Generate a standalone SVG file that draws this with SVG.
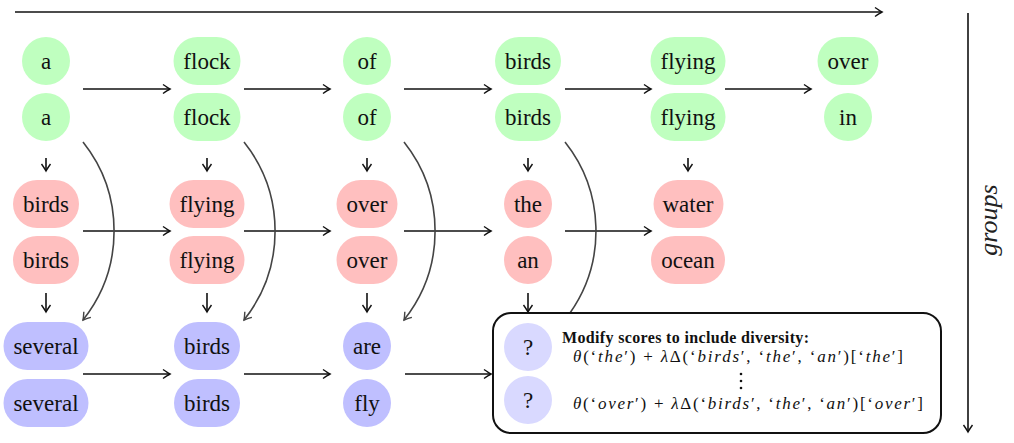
<svg xmlns="http://www.w3.org/2000/svg" width="1014" height="443" viewBox="0 0 1014 443">
<style>
.t{font-family:"Liberation Serif","Times New Roman",serif;font-size:23px;text-anchor:middle;fill:#111}
.g{fill:#bfffbf}.r{fill:#ffbfbf}.b{fill:#bfbfff}.q{fill:#d9d9ff}
.ar{stroke:#111;stroke-width:1.6;fill:none;marker-end:url(#ah)}
.cv{stroke:#444;stroke-width:1.6;fill:none}
.cva{marker-end:url(#ahg)}
.m{font-family:"Liberation Serif","Times New Roman",serif;font-size:17px;fill:#111}
.i{font-style:italic}
</style>
<defs>
<marker id="ah" viewBox="-10 -6 12 12" refX="0" refY="0" markerWidth="12" markerHeight="12" markerUnits="userSpaceOnUse" orient="auto"><path d="M-7,-4.5 Q-2,-1 0,0 Q-2,1 -7,4.5" fill="none" stroke="#111" stroke-width="1.4"/></marker>
<marker id="ahg" viewBox="-10 -6 12 12" refX="0" refY="0" markerWidth="12" markerHeight="12" markerUnits="userSpaceOnUse" orient="auto"><path d="M-7,-4.5 Q-2,-1 0,0 Q-2,1 -7,4.5" fill="none" stroke="#444" stroke-width="1.4"/></marker>
</defs>

<g id="axes">
<path class="ar" d="M15,12 L882,12"/>
<path class="ar" d="M968,13 L968,432"/>
<text class="i" font-family="Liberation Serif, serif" font-size="26" transform="translate(997,220) rotate(-90)" text-anchor="middle" fill="#222">groups</text>
</g>

<g id="connectors">
<path class="ar" d="M83,89 L170,89"/>
<path class="ar" d="M244,89 L330,89"/>
<path class="ar" d="M404,89 L491,89"/>
<path class="ar" d="M565,89 L651,89"/>
<path class="ar" d="M725,89 L811,89"/>
<path class="ar" d="M83,231 L170,231"/>
<path class="ar" d="M244,231 L330,231"/>
<path class="ar" d="M404,231 L491,231"/>
<path class="ar" d="M565,231 L651,231"/>
<path class="ar" d="M83,374 L170,374"/>
<path class="ar" d="M244,374 L330,374"/>
<path class="ar" d="M405,374 L491,374"/>
<path class="ar" d="M46,158 L46,171"/>
<path class="ar" d="M207,158 L207,171"/>
<path class="ar" d="M367,158 L367,171"/>
<path class="ar" d="M528,158 L528,171"/>
<path class="ar" d="M688,158 L688,171"/>
<path class="ar" d="M46,293 L46,312"/>
<path class="ar" d="M207,293 L207,312"/>
<path class="ar" d="M367,293 L367,312"/>
<path class="ar" d="M528,293 L528,312"/>
<path class="cv cva" d="M83,142 A143,143 0 0 1 83,320"/>
<path class="cv cva" d="M244,142 A143,143 0 0 1 244,320"/>
<path class="cv cva" d="M404,142 A143,143 0 0 1 404,320"/>
<path class="cv" d="M565,142 A143,143 0 0 1 570,313"/>
</g>

<g id="n-g1-a"><rect class="g" x="22" y="37" width="48" height="48" rx="24"/><text class="t" x="46" y="68.5">a</text></g>
<g id="n-g1-flock"><rect class="g" x="173.5" y="37" width="67" height="48" rx="24"/><text class="t" x="207" y="68.5">flock</text></g>
<g id="n-g1-of"><rect class="g" x="343" y="37" width="48" height="48" rx="24"/><text class="t" x="367" y="68.5">of</text></g>
<g id="n-g1-birds"><rect class="g" x="495" y="37" width="66" height="48" rx="24"/><text class="t" x="528" y="68.5">birds</text></g>
<g id="n-g1-flying"><rect class="g" x="650.5" y="37" width="75" height="48" rx="24"/><text class="t" x="688" y="68.5">flying</text></g>
<g id="n-g1-over"><rect class="g" x="817.5" y="37" width="61" height="48" rx="24"/><text class="t" x="848" y="68.5">over</text></g>

<g id="n-g2-a"><rect class="g" x="22" y="93" width="48" height="48" rx="24"/><text class="t" x="46" y="124.5">a</text></g>
<g id="n-g2-flock"><rect class="g" x="173.5" y="93" width="67" height="48" rx="24"/><text class="t" x="207" y="124.5">flock</text></g>
<g id="n-g2-of"><rect class="g" x="343" y="93" width="48" height="48" rx="24"/><text class="t" x="367" y="124.5">of</text></g>
<g id="n-g2-birds"><rect class="g" x="495" y="93" width="66" height="48" rx="24"/><text class="t" x="528" y="124.5">birds</text></g>
<g id="n-g2-flying"><rect class="g" x="650.5" y="93" width="75" height="48" rx="24"/><text class="t" x="688" y="124.5">flying</text></g>
<g id="n-g2-in"><rect class="g" x="824" y="93" width="48" height="48" rx="24"/><text class="t" x="848" y="124.5">in</text></g>

<g id="n-r1-birds"><rect class="r" x="13" y="180" width="66" height="48" rx="24"/><text class="t" x="46" y="211.5">birds</text></g>
<g id="n-r1-flying"><rect class="r" x="169.5" y="180" width="75" height="48" rx="24"/><text class="t" x="207" y="211.5">flying</text></g>
<g id="n-r1-over"><rect class="r" x="336.5" y="180" width="61" height="48" rx="24"/><text class="t" x="367" y="211.5">over</text></g>
<g id="n-r1-the"><rect class="r" x="504" y="180" width="48" height="48" rx="24"/><text class="t" x="528" y="211.5">the</text></g>
<g id="n-r1-water"><rect class="r" x="653.5" y="180" width="70" height="48" rx="24"/><text class="t" x="688" y="211.5">water</text></g>

<g id="n-r2-birds"><rect class="r" x="13" y="236" width="66" height="48" rx="24"/><text class="t" x="46" y="267.5">birds</text></g>
<g id="n-r2-flying"><rect class="r" x="169.5" y="236" width="75" height="48" rx="24"/><text class="t" x="207" y="267.5">flying</text></g>
<g id="n-r2-over"><rect class="r" x="336.5" y="236" width="61" height="48" rx="24"/><text class="t" x="367" y="267.5">over</text></g>
<g id="n-r2-an"><rect class="r" x="504" y="236" width="48" height="48" rx="24"/><text class="t" x="528" y="267.5">an</text></g>
<g id="n-r2-ocean"><rect class="r" x="651" y="236" width="74" height="48" rx="24"/><text class="t" x="688" y="267.5">ocean</text></g>

<g id="n-b1-several"><rect class="b" x="3.5" y="322" width="85" height="48" rx="24"/><text class="t" x="46" y="353.5">several</text></g>
<g id="n-b1-birds"><rect class="b" x="174" y="322" width="66" height="48" rx="24"/><text class="t" x="207" y="353.5">birds</text></g>
<g id="n-b1-are"><rect class="b" x="343" y="322" width="48" height="48" rx="24"/><text class="t" x="367" y="353.5">are</text></g>

<g id="n-b2-several"><rect class="b" x="3.5" y="379" width="85" height="48" rx="24"/><text class="t" x="46" y="410.5">several</text></g>
<g id="n-b2-birds"><rect class="b" x="174" y="379" width="66" height="48" rx="24"/><text class="t" x="207" y="410.5">birds</text></g>
<g id="n-b2-fly"><rect class="b" x="343" y="379" width="48" height="48" rx="24"/><text class="t" x="367" y="410.5">fly</text></g>

<g id="n-box">
<rect x="493" y="313" width="448" height="120" rx="18" fill="#fff" stroke="#111" stroke-width="2"/>
<circle class="q" cx="528" cy="347" r="24"/>
<text class="t" x="528" y="355" font-size="24" fill="#555570">?</text>
<circle class="q" cx="528" cy="400" r="24"/>
<text class="t" x="528" y="408" font-size="24" fill="#555570">?</text>
<text x="562" y="343" font-family="Liberation Serif, serif" font-size="16" font-weight="bold" fill="#111" textLength="247">Modify scores to include diversity:</text>
<text class="m" x="573" y="362" textLength="330"><tspan class="i">θ</tspan>(‘<tspan class="i">the</tspan>′) + <tspan class="i">λ</tspan>Δ(‘<tspan class="i">birds</tspan>′, ‘<tspan class="i">the</tspan>′, ‘<tspan class="i">an</tspan>′)[‘<tspan class="i">the</tspan>′]</text>
<circle cx="741" cy="374" r="1.3" fill="#111"/>
<circle cx="741" cy="381" r="1.3" fill="#111"/>
<circle cx="741" cy="388" r="1.3" fill="#111"/>
<text class="m" x="573" y="409" textLength="350"><tspan class="i">θ</tspan>(‘<tspan class="i">over</tspan>′) + <tspan class="i">λ</tspan>Δ(‘<tspan class="i">birds</tspan>′, ‘<tspan class="i">the</tspan>′, ‘<tspan class="i">an</tspan>′)[‘<tspan class="i">over</tspan>′]</text>
</g>
</svg>
